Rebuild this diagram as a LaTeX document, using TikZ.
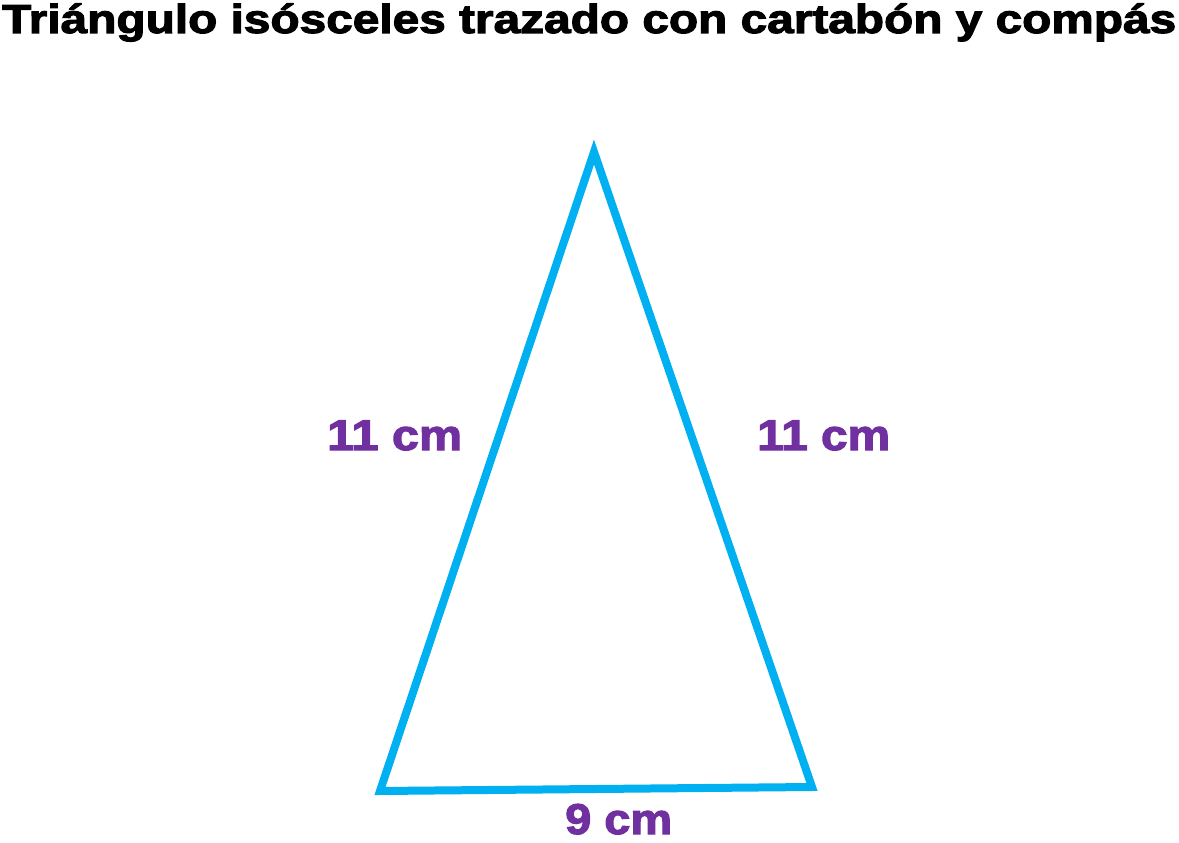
\documentclass[tikz,border=0pt]{standalone}
\usepackage{fontspec}
\usepackage{graphicx}
\setmainfont{Liberation Sans}[BoldFeatures={FakeBold=2.5}]
\definecolor{tricyan}{HTML}{00B0F0}
\definecolor{lblpurple}{HTML}{7030A0}
\begin{document}
\begin{tikzpicture}[x=1pt,y=-1pt,
  side/.style={line width=8pt,draw=tricyan,line join=miter},
  lbl/.style={inner sep=0pt,anchor=base west,text=lblpurple,font=\bfseries\fontsize{43}{43}\selectfont},
  ttl/.style={inner sep=0pt,anchor=base west,text=black,font=\bfseries\fontsize{40.5}{40.5}\selectfont}]
\useasboundingbox (0,0) rectangle (1179,843);
\node[ttl] (title) at (2,33) {\resizebox{1174pt}{\height}{Triángulo isósceles trazado con cartabón y compás}};
\coordinate (A) at (594,152);
\coordinate (B) at (380,791);
\coordinate (C) at (812,787);
\draw[side] (A) -- (B) -- (C) -- cycle;
\node[lbl] (l1) at (327,450) {\resizebox{135pt}{\height}{11 cm}};
\node[lbl] (l2) at (757,450) {\resizebox{133pt}{\height}{11 cm}};
\node[lbl] (l3) at (565,834) {\resizebox{107pt}{\height}{9 cm}};
\end{tikzpicture}
\end{document}
